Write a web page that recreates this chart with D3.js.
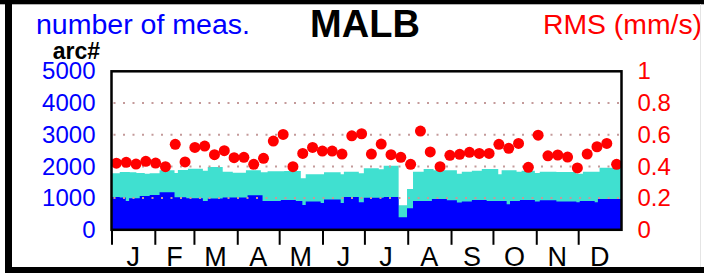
<!DOCTYPE html>
<html>
<head>
<meta charset="utf-8">
<script src="https://cdn.jsdelivr.net/npm/d3@7"></script>
<style>
  body { margin: 0; background: #fff; }
  svg { display: block; font-family: "Liberation Sans", Arial, sans-serif; }
</style>
</head>
<body>
<div id="chart"></div>
<script>
// month ticks (day of year) and labels
const monthNames = ["J", "F", "M", "A", "M", "J", "J", "A", "S", "O", "N", "D"];
const monthStartDays = [0, 31, 59, 90, 120, 151, 181, 212, 243, 273, 304, 334];

// number of measurements: [start day, count] steps
const measSteps = [[0,1783],[5.9,1824],[13.1,1814],[17.8,1793],[23.8,1772],[27.3,1783],[34.4,1877],[45.1,1793],
  [47.5,1887],[54.7,1929],[65.4,1866],[68.9,1981],[79.6,1835],[86.8,1800],[96.2,1877],[106.9,1814],[111.7,1845],
  [123.6,1856],[135.5,1625],[139,1751],[152.1,1814],[164,1751],[166.3,1835],[177,1783],[180.6,1940],[191.3,1908],
  [194.8,2023],[205.5,773],[211.5,1290],[215.8,1834],[223.4,1918],[230.5,1877],[247.2,1772],[250.7,1835],
  [257.9,1866],[265,1918],[273.3,1920],[276.8,1751],[279.2,1877],[289.9,1835],[293.5,1866],[303,1793],
  [306.5,1835],[318.4,1824],[332.7,1772],[337.4,1835],[349.3,1961]];

// number of arcs: [start day, count] steps
const arcSteps = [[0,1038],[5.9,1017],[10.2,912],[12.6,996],[20.2,1069],[27.3,1101],[34.4,1185],[45.1,1028],
  [53.5,996],[65.4,912],[68.9,986],[79.6,1017],[97.4,1090],[108.1,912],[121.2,944],[131.9,912],[136.6,786],
  [139,891],[149.7,849],[152.1,954],[164,849],[166.3,1038],[177,870],[180.6,1010],[194.8,1038],[205.5,398],
  [211.5,682],[215.8,912],[229.3,975],[240,933],[247.2,860],[250.7,891],[257.9,944],[268.5,912],[282.8,807],
  [285.2,912],[292.3,944],[303,891],[306.5,933],[318.4,891],[332.7,870],[335.1,912],[345.8,870],[348.1,975]];

// weekly RMS (mm/s)
const rmsWeekly = [0.42,0.426,0.415,0.432,0.421,0.398,0.539,0.428,0.52,0.528,
  0.474,0.499,0.455,0.457,0.413,0.451,0.56,0.602,0.398,0.482,
  0.52,0.497,0.497,0.478,0.593,0.606,0.478,0.541,0.474,0.457,
  0.413,0.623,0.491,0.398,0.47,0.476,0.489,0.482,0.482,0.539,
  0.514,0.545,0.394,0.597,0.467,0.472,0.459,0.39,0.478,0.524,
  0.545,0.413];

const countTicks = [0, 1000, 2000, 3000, 4000, 5000];
const rmsTicks = [0, 0.2, 0.4, 0.6, 0.8, 1];
const gridTicks = [1000, 2000, 3000, 4000];

const W = 704, H = 273;
const svg = d3.select("#chart").append("svg").attr("width", W).attr("height", H);

const x = d3.scaleLinear().domain([0, 365]).range([111.5, 621.5]);
const yL = d3.scaleLinear().domain([0, 5000]).range([229.8, 71.3]);
const yR = d3.scaleLinear().domain([0, 1]).range([229.8, 71.3]);

// step areas
function stepData(steps) {
    let d = steps.map(s => ({ day: s[0], v: s[1] }));
    d.push({ day: 365, v: steps[steps.length - 1][1] });
    return d;
}
let area = d3.area()
    .curve(d3.curveStepAfter)
    .x(d => x(d.day))
    .y0(yL(0))
    .y1(d => yL(d.v));

svg.append("path").datum(stepData(measSteps)).attr("fill", "#40e0d0").attr("d", area);
svg.append("path").datum(stepData(arcSteps)).attr("fill", "#0000ff").attr("d", area);

// dotted grid
svg.append("g").selectAll("line").data(gridTicks).join("line")
    .attr("x1", x(0) + 2).attr("x2", x(365))
    .attr("y1", d => yL(d)).attr("y2", d => yL(d))
    .attr("stroke", "#c49a9a")
    .attr("stroke-width", 2)
    .attr("stroke-dasharray", "2 7.5");

// RMS dots
svg.append("clipPath").attr("id", "plotclip").append("rect")
    .attr("x", x(0)).attr("y", yL(5000)).attr("width", x(365) - x(0)).attr("height", yL(0) - yL(5000));
svg.append("g").attr("clip-path", "url(#plotclip)")
    .selectAll("circle").data(rmsWeekly).join("circle")
    .attr("cx", (d, i) => x((i + 0.5) * 365 / 52))
    .attr("cy", d => yR(d))
    .attr("r", 5.5)
    .attr("fill", "#ff0000");

// plot frame
svg.append("rect")
    .attr("x", x(0)).attr("y", yL(5000))
    .attr("width", x(365) - x(0)).attr("height", yL(0) - yL(5000))
    .attr("fill", "none").attr("stroke", "#000").attr("stroke-width", 2.5);

// left axis
let leftAxis = svg.append("g")
    .attr("transform", "translate(" + x(0) + ",0)")
    .call(d3.axisLeft(yL).tickValues(countTicks).tickSize(0).tickPadding(16).tickFormat(d3.format("d")));
leftAxis.select(".domain").remove();
leftAxis.selectAll("text").attr("fill", "#0000ff").style("font-size", "24px").style("font-family", "inherit");

// right axis
let rightAxis = svg.append("g")
    .attr("transform", "translate(" + x(365) + ",0)")
    .call(d3.axisRight(yR).tickValues(rmsTicks).tickSize(0).tickPadding(16).tickFormat(d => d));
rightAxis.select(".domain").remove();
rightAxis.selectAll("text").attr("fill", "#ff0000").style("font-size", "24px").style("font-family", "inherit");

// month ticks and labels
let monthAxis = svg.append("g")
    .attr("transform", "translate(0," + (yL(0) + 1) + ")")
    .call(d3.axisBottom(x).tickValues(monthStartDays).tickSize(14).tickFormat(""));
monthAxis.select(".domain").remove();
monthAxis.selectAll("line").attr("stroke", "#000").attr("stroke-width", 2);

let monthMid = monthStartDays.map((d, i) => ((monthStartDays[i + 1] || 365) + d) / 2);
svg.append("g").selectAll("text").data(monthMid).join("text")
    .attr("x", d => x(d))
    .attr("y", 266)
    .attr("text-anchor", "middle")
    .style("font-size", "27px")
    .text((d, i) => monthNames[i]);

// titles
svg.append("text")
    .attr("x", 36).attr("y", 34)
    .attr("fill", "#0000ff")
    .style("font-size", "27px")
    .attr("textLength", 214)
    .attr("lengthAdjust", "spacingAndGlyphs")
    .text("number of meas.");

svg.append("text")
    .attr("x", 365).attr("y", 36.5)
    .attr("text-anchor", "middle")
    .style("font-size", "38px")
    .style("font-weight", "bold")
    .text("MALB");

svg.append("text")
    .attr("x", 543).attr("y", 34)
    .attr("fill", "#ff0000")
    .style("font-size", "27px")
    .attr("textLength", 159)
    .attr("lengthAdjust", "spacingAndGlyphs")
    .text("RMS (mm/s)");

svg.append("text")
    .attr("x", 100).attr("y", 59)
    .attr("text-anchor", "end")
    .style("font-size", "23px")
    .style("font-weight", "bold")
    .text("arc#");

// outer frame
svg.append("rect").attr("x", 0).attr("y", 0).attr("width", W).attr("height", 4.3).attr("fill", "#000");
svg.append("rect").attr("x", 5).attr("y", 0).attr("width", 7).attr("height", H).attr("fill", "#000");
svg.append("rect").attr("x", 5).attr("y", 267).attr("width", W - 5).attr("height", 6).attr("fill", "#000");
svg.append("line").attr("x1", 700.5).attr("x2", 700.5).attr("y1", 4).attr("y2", 267)
    .attr("stroke", "#e4e4e4").attr("stroke-width", 1);
</script>
</body>
</html>
